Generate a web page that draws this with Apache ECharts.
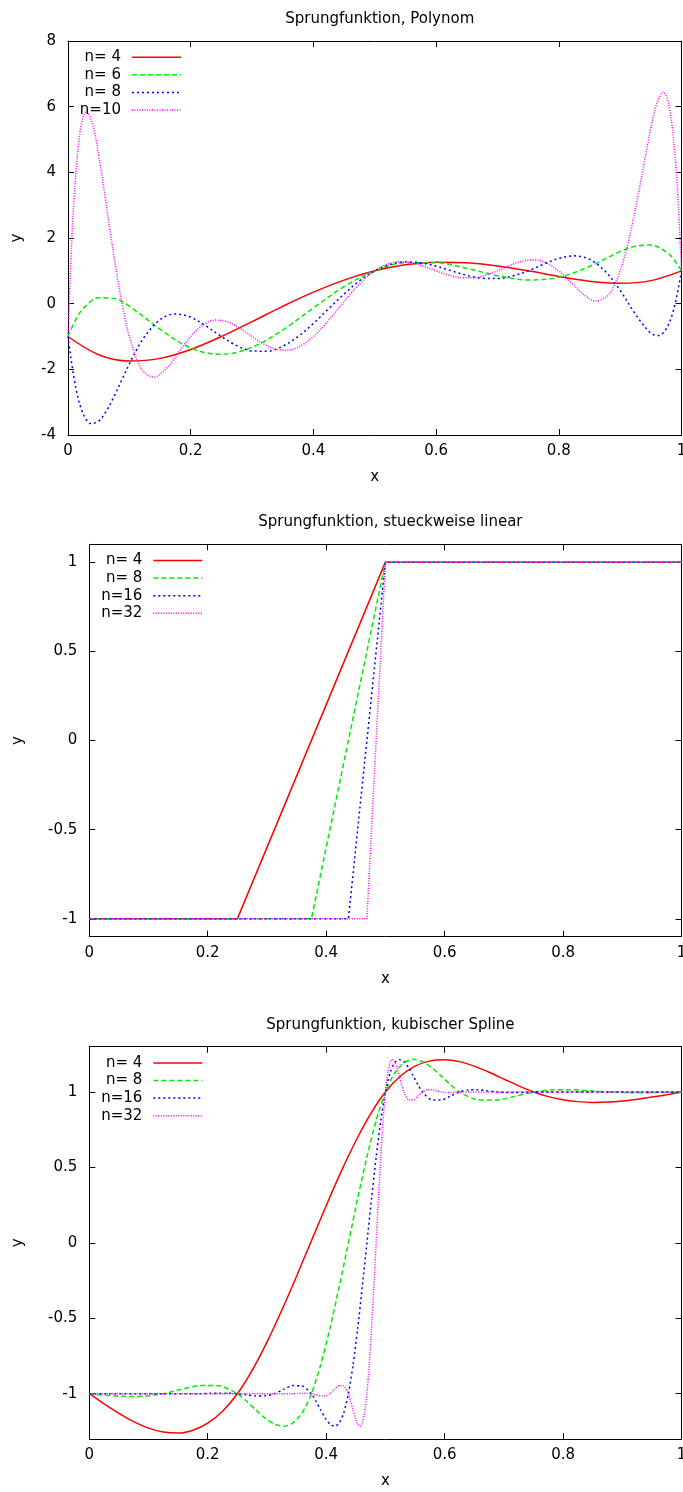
<!DOCTYPE html>
<html>
<head>
<meta charset="utf-8">
<script src="https://cdn.jsdelivr.net/npm/echarts@6/dist/echarts.min.js"></script>
<style>
html, body { margin: 0; padding: 0; background: #fff; }
#chart { width: 683px; height: 1492px; }
</style>
</head>
<body>
<div id="chart"></div>
<script>
// Titles and legend labels of the three panels
const titles = [
  'Sprungfunktion, Polynom',
  'Sprungfunktion, stueckweise linear',
  'Sprungfunktion, kubischer Spline'
];
const names = [
  ['n= 4', 'n= 6', 'n= 8', 'n=10'],
  ['n= 4', 'n= 8', 'n=16', 'n=32'],
  ['n= 4', 'n= 8', 'n=16', 'n=32']
];

// Tick values
const xTicks = [0, 0.2, 0.4, 0.6, 0.8, 1];
const yTicksPoly = [-4, -2, 0, 2, 4, 6, 8];
const yTicksStep = [-1, -0.5, 0, 0.5, 1];

// Panel 1: interpolating polynomials of the step function
const poly4 = [[0,-1],[0.05,-1.554],[0.1,-1.746],[0.15,-1.666],[0.2,-1.394],[0.25,-1],[0.3,-0.546],[0.35,-0.082],[0.4,0.350],[0.45,0.718],[0.5,1],[0.55,1.182],[0.6,1.262],[0.65,1.246],[0.7,1.150],[0.75,1],[0.8,0.830],[0.85,0.686],[0.9,0.622],[0.95,0.702],[1,1]];
const poly6 = [[0,-1],[0.0125,-0.495],[0.025,-0.146],[0.05,0.182],[0.075,0.159],[0.1,-0.077],[0.15,-0.777],[0.2,-1.349],[0.25,-1.543],[0.3,-1.326],[0.35,-0.800],[0.4,-0.128],[0.45,0.517],[0.5,1],[0.55,1.244],[0.6,1.246],[0.65,1.075],[0.7,0.853],[0.75,0.723],[0.8,0.805],[0.85,1.134],[0.9,1.585],[0.925,1.752],[0.95,1.784],[0.975,1.577],[0.9875,1.345],[1,1]];
const poly8 = [[0,-1],[0.0125,-2.547],[0.025,-3.364],[0.0375,-3.653],[0.05,-3.578],[0.0625,-3.268],[0.075,-2.826],[0.0875,-2.329],[0.1,-1.835],[0.1125,-1.383],[0.125,-1],[0.15,-0.487],[0.175,-0.313],[0.2,-0.413],[0.225,-0.680],[0.25,-1],[0.275,-1.277],[0.3,-1.439],[0.325,-1.447],[0.35,-1.295],[0.375,-1],[0.4,-0.603],[0.425,-0.153],[0.45,0.295],[0.475,0.692],[0.5,1],[0.525,1.195],[0.55,1.273],[0.575,1.246],[0.6,1.142],[0.625,1],[0.65,0.864],[0.675,0.775],[0.7,0.764],[0.725,0.842],[0.75,1],[0.775,1.200],[0.8,1.378],[0.825,1.456],[0.85,1.350],[0.875,1],[0.9,0.405],[0.925,-0.325],[0.95,-0.901],[0.9625,-0.972],[0.975,-0.770],[0.9875,-0.166],[1,1]];
const poly10 = [[0,-1],[0.005,1.434],[0.01,3.226],[0.02,5.281],[0.03,5.852],[0.04,5.467],[0.05,4.524],[0.06,3.315],[0.07,2.046],[0.08,0.854],[0.09,-0.176],[0.1,-1],[0.12,-1.996],[0.14,-2.238],[0.16,-1.978],[0.18,-1.491],[0.2,-1],[0.22,-0.649],[0.24,-0.501],[0.26,-0.550],[0.28,-0.743],[0.3,-1],[0.32,-1.240],[0.34,-1.392],[0.36,-1.410],[0.38,-1.276],[0.4,-1],[0.42,-0.614],[0.44,-0.168],[0.46,0.283],[0.48,0.687],[0.5,1],[0.52,1.198],[0.54,1.275],[0.56,1.245],[0.58,1.140],[0.6,1],[0.62,0.871],[0.64,0.791],[0.66,0.786],[0.68,0.862],[0.7,1],[0.72,1.162],[0.74,1.293],[0.76,1.335],[0.78,1.242],[0.8,1],[0.82,0.647],[0.84,0.285],[0.86,0.080],[0.88,0.249],[0.89,0.541],[0.9,1],[0.91,1.633],[0.92,2.434],[0.93,3.369],[0.94,4.375],[0.95,5.343],[0.96,6.110],[0.97,6.440],[0.98,6.010],[0.99,4.386],[0.995,2.955],[1,1]];

// Panel 2: piecewise linear interpolation (node values)
const lin4 = [[0,-1],[0.25,-1],[0.5,1],[0.75,1],[1,1]];
const lin8 = [[0,-1],[0.125,-1],[0.25,-1],[0.375,-1],[0.5,1],[0.625,1],[0.75,1],[0.875,1],[1,1]];
const lin16 = [[0,-1],[0.0625,-1],[0.125,-1],[0.1875,-1],[0.25,-1],[0.3125,-1],[0.375,-1],[0.4375,-1],[0.5,1],[0.5625,1],[0.625,1],[0.6875,1],[0.75,1],[0.8125,1],[0.875,1],[0.9375,1],[1,1]];
const lin32 = [[0,-1],[0.03125,-1],[0.0625,-1],[0.09375,-1],[0.125,-1],[0.15625,-1],[0.1875,-1],[0.21875,-1],[0.25,-1],[0.28125,-1],[0.3125,-1],[0.34375,-1],[0.375,-1],[0.40625,-1],[0.4375,-1],[0.46875,-1],[0.5,1],[0.53125,1],[0.5625,1],[0.59375,1],[0.625,1],[0.65625,1],[0.6875,1],[0.71875,1],[0.75,1],[0.78125,1],[0.8125,1],[0.84375,1],[0.875,1],[0.90625,1],[0.9375,1],[0.96875,1],[1,1]];

// Panel 3: natural cubic splines
const spl4 = [[0,-1],[0.025,-1.067],[0.05,-1.130],[0.075,-1.185],[0.1,-1.228],[0.125,-1.254],[0.15,-1.261],[0.175,-1.242],[0.2,-1.195],[0.225,-1.116],[0.25,-1],[0.275,-0.845],[0.3,-0.658],[0.325,-0.447],[0.35,-0.221],[0.375,0.013],[0.4,0.246],[0.425,0.470],[0.45,0.675],[0.475,0.855],[0.5,1],[0.525,1.104],[0.55,1.171],[0.575,1.206],[0.6,1.214],[0.625,1.201],[0.65,1.171],[0.675,1.131],[0.7,1.086],[0.725,1.040],[0.75,1],[0.775,0.969],[0.8,0.949],[0.825,0.936],[0.85,0.931],[0.875,0.933],[0.9,0.940],[0.925,0.951],[0.95,0.966],[0.975,0.982],[1,1]];
const spl8 = [[0,-1],[0.03125,-1.0114],[0.0625,-1.018],[0.09375,-1.016],[0.125,-1],[0.15625,-0.9703],[0.1875,-0.945],[0.21875,-0.947],[0.25,-1],[0.265625,-1.050],[0.28125,-1.1075],[0.296875,-1.1615],[0.3125,-1.201],[0.328125,-1.216],[0.34375,-1.194],[0.359375,-1.126],[0.375,-1],[0.390625,-0.810],[0.40625,-0.5686],[0.421875,-0.2928],[0.4375,0],[0.453125,0.293],[0.46875,0.5687],[0.484375,0.810],[0.5,1],[0.515625,1.126],[0.53125,1.194],[0.546875,1.216],[0.5625,1.201],[0.578125,1.161],[0.59375,1.107],[0.609375,1.050],[0.625,1],[0.65625,0.948],[0.6875,0.946],[0.71875,0.971],[0.75,1],[0.78125,1.0141],[0.8125,1.0147],[0.84375,1.008],[0.875,1],[0.90625,0.9957],[0.9375,0.9951],[0.96875,0.9969],[1,1]];
const spl16 = [[0,-1],[0.0625,-1],[0.125,-1],[0.1875,-1],[0.203125,-0.9979],[0.21875,-0.9961],[0.234375,-0.9963],[0.25,-1],[0.265625,-1.0077],[0.28125,-1.0144],[0.296875,-1.0139],[0.3125,-1],[0.328125,-0.9713],[0.34375,-0.9462],[0.359375,-0.9480],[0.375,-1],[0.3828125,-1.0499],[0.390625,-1.1072],[0.3984375,-1.1612],[0.40625,-1.2010],[0.4140625,-1.2156],[0.421875,-1.1942],[0.4296875,-1.1260],[0.4375,-1],[0.4453125,-0.8101],[0.453125,-0.5686],[0.4609375,-0.2929],[0.46875,0],[0.4765625,0.2929],[0.484375,0.5686],[0.4921875,0.8101],[0.5,1],[0.5078125,1.1260],[0.515625,1.1942],[0.5234375,1.2156],[0.53125,1.2010],[0.5390625,1.1612],[0.546875,1.1072],[0.5546875,1.0499],[0.5625,1],[0.578125,0.9480],[0.59375,0.9462],[0.609375,0.9713],[0.625,1],[0.640625,1.0139],[0.65625,1.0144],[0.671875,1.0077],[0.6875,1],[0.703125,0.9963],[0.71875,0.9961],[0.734375,0.9979],[0.75,1],[0.8125,1],[0.875,1],[0.9375,1],[1,1]];
const spl32 = [[0,-1],[0.0625,-1],[0.125,-1],[0.1875,-1],[0.25,-1],[0.3125,-1],[0.34375,-1],[0.3515625,-0.9979],[0.359375,-0.9961],[0.3671875,-0.9963],[0.375,-1],[0.3828125,-1.0077],[0.390625,-1.0144],[0.3984375,-1.0139],[0.40625,-1],[0.4140625,-0.9713],[0.421875,-0.9462],[0.4296875,-0.9480],[0.4375,-1],[0.44140625,-1.0499],[0.4453125,-1.1072],[0.44921875,-1.1612],[0.453125,-1.2010],[0.45703125,-1.2156],[0.4609375,-1.1942],[0.46484375,-1.1260],[0.46875,-1],[0.47265625,-0.8101],[0.4765625,-0.5686],[0.48046875,-0.2929],[0.484375,0],[0.48828125,0.2929],[0.4921875,0.5686],[0.49609375,0.8101],[0.5,1],[0.50390625,1.1260],[0.5078125,1.1942],[0.51171875,1.2156],[0.515625,1.2010],[0.51953125,1.1612],[0.5234375,1.1072],[0.52734375,1.0499],[0.53125,1],[0.5390625,0.9480],[0.546875,0.9462],[0.5546875,0.9713],[0.5625,1],[0.5703125,1.0139],[0.578125,1.0144],[0.5859375,1.0077],[0.59375,1],[0.6015625,0.9963],[0.609375,0.9961],[0.6171875,0.9979],[0.625,1],[0.6875,1],[0.75,1],[0.8125,1],[0.875,1],[0.9375,1],[1,1]];

const panelData = [
  [poly4, poly6, poly8, poly10],
  [lin4, lin8, lin16, lin32],
  [spl4, spl8, spl16, spl32]
];

// Plot frames (pixels) and value ranges
const FONT = 'DejaVu Sans';
const FS = 15;
const grids = [
  { left: 68,   top: 41,     width: 613.5, height: 394 },
  { left: 89.3, top: 544.3,  width: 592.2, height: 392.4 },
  { left: 89.3, top: 1046.7, width: 592.2, height: 392.3 }
];
const yRanges = [[-4, 8], [-1.1, 1.1], [-1.3, 1.3]];
const yTickSets = [yTicksPoly, yTicksStep, yTicksStep];
const yNameGap = [43, 64, 64];
const titleTop = [7, 510, 1013];
const smoothing = [0.35, false, 0.25];

const lineStyles = [
  { color: '#ff0000', type: 'solid' },
  { color: '#00ee00', type: [5, 3] },
  { color: '#0000ff', type: [2, 3] },
  { color: '#ff00ff', type: [1, 1.5] }
];

const black = '#000';
const xAxes = [], yAxes = [], series = [], graphics = [], titleOpts = [];

grids.forEach((g, p) => {
  const axisLine = { show: true, onZero: false, lineStyle: { color: black, width: 1 } };
  const tick = { show: true, inside: true, length: 6, lineStyle: { color: black, width: 1 } };
  const labelStyle = { color: black, fontSize: FS, fontFamily: FONT };

  xAxes.push({
    gridIndex: p, type: 'value', position: 'bottom', min: 0, max: 1, interval: 0.2,
    name: 'x', nameLocation: 'middle', nameGap: 35, nameMoveOverlap: false,
    nameTextStyle: { color: black, fontSize: FS, fontFamily: FONT },
    axisLine, axisTick: tick, splitLine: { show: false },
    axisLabel: Object.assign({ margin: 9, showMinLabel: true, showMaxLabel: true }, labelStyle)
  });
  xAxes.push({
    gridIndex: p, type: 'value', position: 'top', min: 0, max: 1, interval: 0.2,
    axisLine, axisTick: tick, axisLabel: { show: false }, splitLine: { show: false }
  });

  const [ymin, ymax] = yRanges[p];
  const ticks = yTickSets[p];
  const yBase = {
    gridIndex: p, type: 'value', min: ymin, max: ymax,
    axisLine, splitLine: { show: false }
  };
  yAxes.push(Object.assign({}, yBase, {
    position: 'left',
    name: 'y', nameLocation: 'middle', nameGap: yNameGap[p], nameRotate: 90, nameMoveOverlap: false,
    nameTextStyle: { color: black, fontSize: FS, fontFamily: FONT },
    axisTick: Object.assign({ customValues: ticks }, tick),
    axisLabel: Object.assign({ margin: 12, customValues: ticks }, labelStyle)
  }));
  yAxes.push(Object.assign({}, yBase, {
    position: 'right',
    axisTick: Object.assign({ customValues: ticks }, tick),
    axisLabel: { show: false }
  }));

  titleOpts.push({
    text: titles[p], left: g.left + g.width / 2, top: titleTop[p], textAlign: 'center',
    textStyle: { color: black, fontSize: FS, fontWeight: 'normal', fontFamily: FONT }
  });

  panelData[p].forEach((d, k) => {
    const ls = lineStyles[k];
    // later curves are drawn over earlier ones
    series.push({
      type: 'line', name: names[p][k],
      xAxisIndex: 2 * p, yAxisIndex: 2 * p,
      data: d, showSymbol: false, symbol: 'none',
      smooth: smoothing[p], clip: true,
      lineStyle: { color: ls.color, width: 1.5, type: ls.type, cap: 'butt' },
      z: 2 + k
    });

    // key entry: right-aligned label followed by a sample of the line
    const rowY = g.top + 16.2 + 17.6 * k;
    graphics.push({
      type: 'text', x: g.left + 53, y: rowY, z: 100,
      style: { text: names[p][k], fill: black, font: FS + 'px "' + FONT + '"', align: 'right', verticalAlign: 'middle' }
    });
    graphics.push({
      type: 'line', z: 100,
      shape: { x1: g.left + 64, y1: rowY, x2: g.left + 113, y2: rowY },
      style: { stroke: ls.color, lineWidth: 1.5, lineDash: ls.type === 'solid' ? null : ls.type }
    });
  });
});

const chart = echarts.init(document.getElementById('chart'), null, { renderer: 'canvas' });
chart.setOption({
  animation: false,
  backgroundColor: '#fff',
  textStyle: { fontFamily: FONT },
  title: titleOpts,
  grid: grids.map(g => Object.assign({ outerBoundsMode: 'none', containLabel: false }, g)),
  xAxis: xAxes,
  yAxis: yAxes,
  series: series,
  graphic: graphics
});
</script>
</body>
</html>
